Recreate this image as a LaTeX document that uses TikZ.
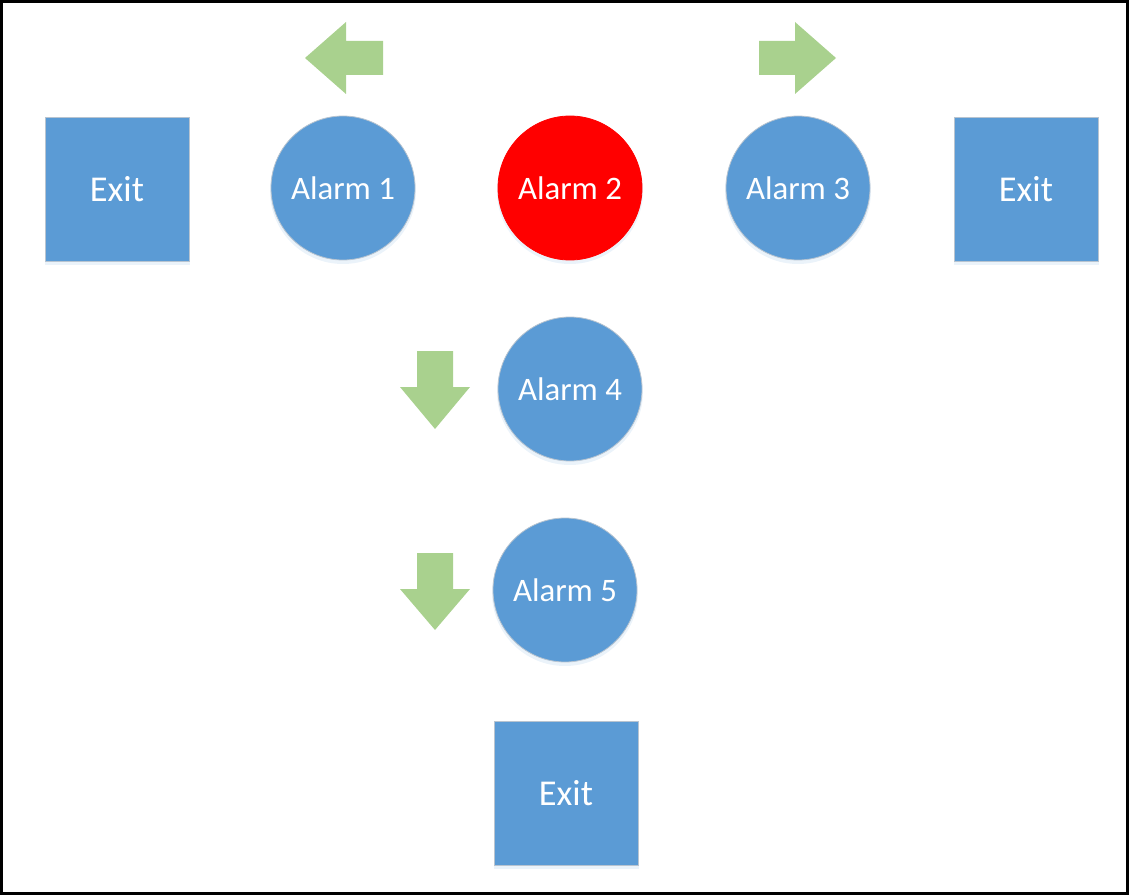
\documentclass[tikz,border=0pt]{standalone}
\usepackage{fontspec}
\setmainfont{Carlito}
\definecolor{boxblue}{HTML}{5B9BD5}
\definecolor{arrgreen}{HTML}{A9D18E}
\definecolor{edgegray}{HTML}{B8C4D0}
\begin{document}
\begin{tikzpicture}[x=0.75pt,y=-0.75pt,
  alarm/.style={circle,fill=boxblue,draw=edgegray,line width=0.6pt,minimum size=144*0.75pt,inner sep=0pt,text=white,font=\fontsize{24.6}{28}\selectfont},
  exitbox/.style={rectangle,fill=boxblue,draw=edgegray,line width=0.6pt,minimum size=144*0.75pt,inner sep=0pt,text=white,font=\fontsize{27.3}{31}\selectfont},
  shade/.style={fill=boxblue,opacity=0.12},
  garrow/.style={fill=arrgreen,draw=none}]
\useasboundingbox (0,0) rectangle (1129,895);
\draw[line width=3pt*0.75] (1.5,1.5) rectangle (1127.5,893.5);
% shadows
\foreach \cx/\cy in {343/188,570/188,798/188,570/389,565/590}
  \fill[shade] (\cx,\cy+3) circle (73);
\foreach \cx/\cy in {117/189,1026/189,566/793}
  \fill[shade] (\cx-72,\cy-69) rectangle (\cx+73,\cy+76);
% nodes
\node[exitbox] (exitL) at (117,189) {Exit};
\node[alarm] (a1) at (343,188) {Alarm 1};
\node[alarm,fill=red,draw=red] (a2) at (570,188) {Alarm 2};
\node[alarm] (a3) at (798,188) {Alarm 3};
\node[exitbox] (exitR) at (1026,189) {Exit};
\node[alarm] (a4) at (570,389) {Alarm 4};
\node[alarm] (a5) at (565,590) {Alarm 5};
\node[exitbox] (exitB) at (566,793) {Exit};
% arrows
\fill[garrow] (305,58) -- (346,22) -- (346,41) -- (383,41) -- (383,75) -- (346,75) -- (346,94) -- cycle;
\fill[garrow] (836,58) -- (795,22) -- (795,41) -- (759,41) -- (759,75) -- (795,75) -- (795,94) -- cycle;
\fill[garrow] (435,429) -- (400,387) -- (417,387) -- (417,351) -- (453,351) -- (453,387) -- (470,387) -- cycle;
\fill[garrow] (435,630) -- (400,589) -- (417,589) -- (417,553) -- (453,553) -- (453,589) -- (470,589) -- cycle;
\end{tikzpicture}
\end{document}
